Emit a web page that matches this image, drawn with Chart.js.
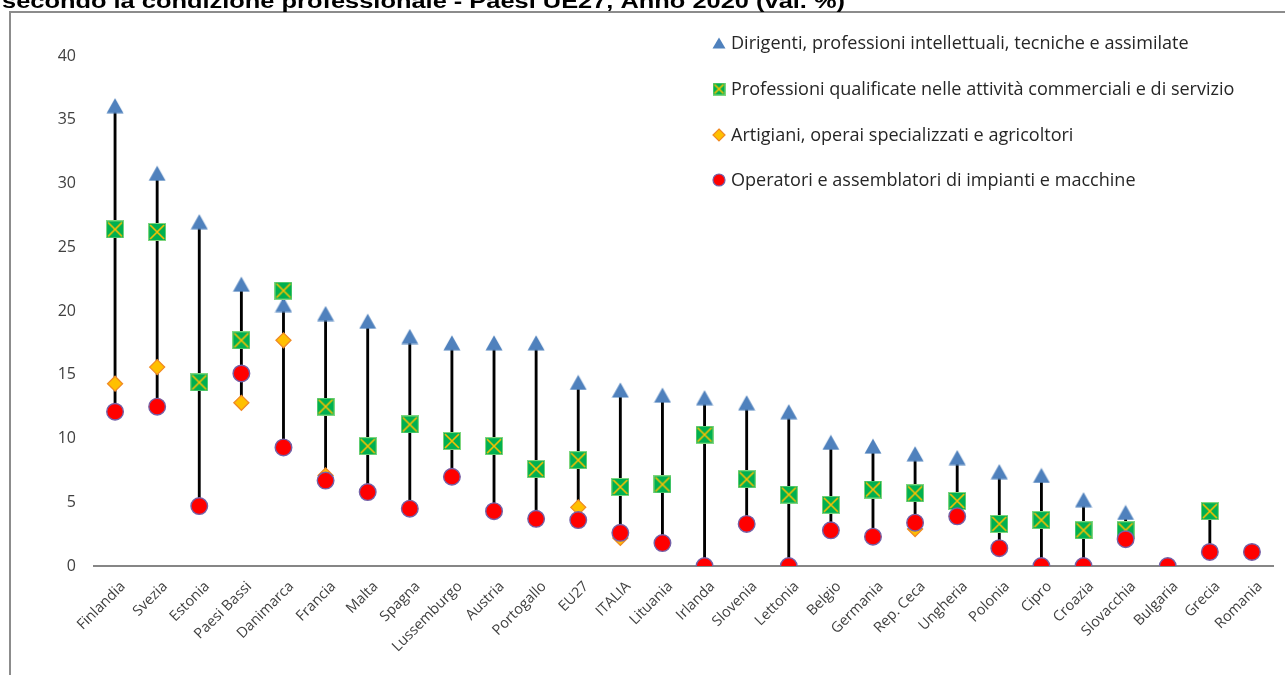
<!DOCTYPE html>
<html><head><meta charset="utf-8">
<script src="https://cdn.jsdelivr.net/npm/chart.js@4/dist/chart.umd.min.js"></script>
<style>
html,body{margin:0;padding:0;background:#fff;overflow:hidden}
#wrap{position:relative;width:1285px;height:675px;overflow:hidden}
#frame{position:absolute;left:9px;top:11px;width:1300px;height:700px;border-left:2px solid #8c8c8c;border-top:2px solid #8c8c8c}
canvas{position:absolute;left:0;top:0}
</style></head>
<body><div id="wrap"><div id="frame"></div><canvas id="c" width="1285" height="675"></canvas></div>
<script>
const title = "secondo la condizione professionale - Paesi UE27, Anno 2020 (val. %)";
const categories = ["Finlandia","Svezia","Estonia","Paesi Bassi","Danimarca","Francia","Malta","Spagna","Lussemburgo","Austria","Portogallo","EU27","ITALIA","Lituania","Irlanda","Slovenia","Lettonia","Belgio","Germania","Rep. Ceca","Ungheria","Polonia","Cipro","Croazia","Slovacchia","Bulgaria","Grecia","Romania"];
const seriesNames = ["Dirigenti, professioni intellettuali, tecniche e assimilate","Professioni qualificate nelle attività commerciali e di servizio","Artigiani, operai specializzati e agricoltori","Operatori e assemblatori di impianti e macchine"];
const dirigenti   = [36.1,30.8,27.0,22.1,20.5,19.8,19.2,18.0,17.5,17.5,17.5,14.4,13.8,13.4,13.2,12.8,12.1,9.7,9.4,8.8,8.5,7.4,7.1,5.2,4.2,null,null,null];
const qualificate = [26.4,26.2,14.4,17.7,21.6,12.5,9.4,11.1,9.8,9.4,7.6,8.3,6.2,6.4,10.3,6.8,5.6,4.8,6.0,5.7,5.1,3.3,3.6,2.8,2.8,null,4.3,null];
const artigiani   = [14.3,15.6,null,12.8,17.7,7.1,null,null,null,null,null,4.6,2.2,null,null,null,null,null,null,2.9,null,null,null,null,null,null,null,null];
const operatori   = [12.1,12.5,4.7,15.1,9.3,6.7,5.8,4.5,7.0,4.3,3.7,3.6,2.6,1.8,0,3.3,0,2.8,2.3,3.4,3.9,1.4,0,0,2.1,0,1.1,1.1];
const yTicks = [0,5,10,15,20,25,30,35,40];

const allSeries = [dirigenti, qualificate, artigiani, operatori];
const ranges = categories.map((c,i)=>{
  const v = allSeries.map(s=>s[i]).filter(x=>x!==null && x!==undefined);
  return v.length>1 ? [Math.min(...v), Math.max(...v)] : null;
});

const BLUE='#4F81BD', GREEN='#00B050', YEL='#FFC000', ORB='#F08A24', RED='#FF0000', PUR='#7461A8';

function makeTriangle(w,h){
  const c=document.createElement('canvas'); c.width=w; c.height=h;
  const x=c.getContext('2d'); x.fillStyle=BLUE; x.beginPath();
  x.moveTo(w/2,0.5); x.lineTo(w-0.5,h-0.5); x.lineTo(0.5,h-0.5); x.closePath(); x.fill();
  return c;
}
function makeSquare(s){
  const c=document.createElement('canvas'); c.width=s; c.height=s;
  const x=c.getContext('2d'); x.fillStyle=GREEN; x.fillRect(0,0,s,s);
  x.strokeStyle='#7fd67f'; x.lineWidth=1; x.strokeRect(0.5,0.5,s-1,s-1);
  x.strokeStyle=YEL; x.lineWidth=1.6; x.beginPath();
  x.moveTo(2,2); x.lineTo(s-2,s-2); x.moveTo(s-2,2); x.lineTo(2,s-2); x.stroke();
  return c;
}
const triImg = makeTriangle(18,16), sqImg = makeSquare(18);
const triLeg = makeTriangle(14,12), sqLeg = makeSquare(13);

const titleLegend = {
  id:'titleLegend',
  afterDraw(chart){
    const ctx=chart.ctx; ctx.save();
    ctx.font='bold 21px "Liberation Sans"';
    const tw = ctx.measureText(title).width;
    ctx.save();
    ctx.translate(2,7.5); ctx.scale(843/tw,1);
    ctx.fillStyle='#000'; ctx.textBaseline='alphabetic'; ctx.textAlign='left';
    ctx.fillText(title,0,0);
    ctx.restore();
    ctx.font='100px "Open Sans"';
    let ls = 100*458/ctx.measureText(seriesNames[0]).width;
    ctx.font=ls.toFixed(2)+'px "Open Sans"';
    ctx.textBaseline='middle'; ctx.textAlign='left';
    const rows=[43,89,135,180], mx=719, tx=731;
    ctx.drawImage(triLeg, mx-7, rows[0]-6);
    ctx.drawImage(sqLeg, mx-6.5, rows[1]-6.5);
    ctx.beginPath(); ctx.moveTo(mx,rows[2]-6); ctx.lineTo(mx+6,rows[2]); ctx.lineTo(mx,rows[2]+6); ctx.lineTo(mx-6,rows[2]); ctx.closePath();
    ctx.fillStyle=YEL; ctx.fill(); ctx.strokeStyle=ORB; ctx.lineWidth=1.2; ctx.stroke();
    ctx.beginPath(); ctx.arc(mx,rows[3],6,0,Math.PI*2); ctx.fillStyle=RED; ctx.fill(); ctx.strokeStyle=PUR; ctx.lineWidth=1.2; ctx.stroke();
    ctx.fillStyle='#262626';
    seriesNames.forEach((n,i)=>ctx.fillText(n,tx,rows[i]+1));
    ctx.restore();
  }
};

new Chart(document.getElementById('c'),{
  data:{
    labels:categories,
    datasets:[
      {type:'bar',data:ranges,backgroundColor:'#000',barThickness:2.2,order:10},
      {type:'line',label:seriesNames[0],data:dirigenti,showLine:false,pointStyle:triImg,order:3},
      {type:'line',label:seriesNames[1],data:qualificate,showLine:false,pointStyle:sqImg,order:2},
      {type:'line',label:seriesNames[2],data:artigiani,showLine:false,pointStyle:'rectRot',pointRadius:7.5,pointBackgroundColor:YEL,pointBorderColor:ORB,pointBorderWidth:1.3,order:1},
      {type:'line',label:seriesNames[3],data:operatori,showLine:false,pointStyle:'circle',pointRadius:8.3,pointBackgroundColor:RED,pointBorderColor:PUR,pointBorderWidth:1.4,order:0}
    ]
  },
  options:{
    responsive:false,animation:false,
    layout:{padding:{left:0,right:12,top:56,bottom:0}},
    plugins:{legend:{display:false},tooltip:{enabled:false},title:{display:false}},
    scales:{
      x:{
        grid:{display:false,drawTicks:false},
        border:{display:true,color:'#868686',width:2},
        ticks:{autoSkip:false,maxRotation:45,minRotation:45,color:'#404040',font:{family:'Open Sans',size:14.5},padding:12,labelOffset:8},
        afterFit(s){s.height=109;}
      },
      y:{
        min:0,max:40,
        grid:{display:false,drawTicks:false},
        border:{display:false},
        afterBuildTicks(s){s.ticks=yTicks.map(v=>({value:v}));},
        ticks:{color:'#404040',font:{family:'Open Sans',size:16},padding:18},
        afterFit(s){s.width=94;}
      }
    }
  },
  plugins:[titleLegend]
});
</script>
</body></html>
